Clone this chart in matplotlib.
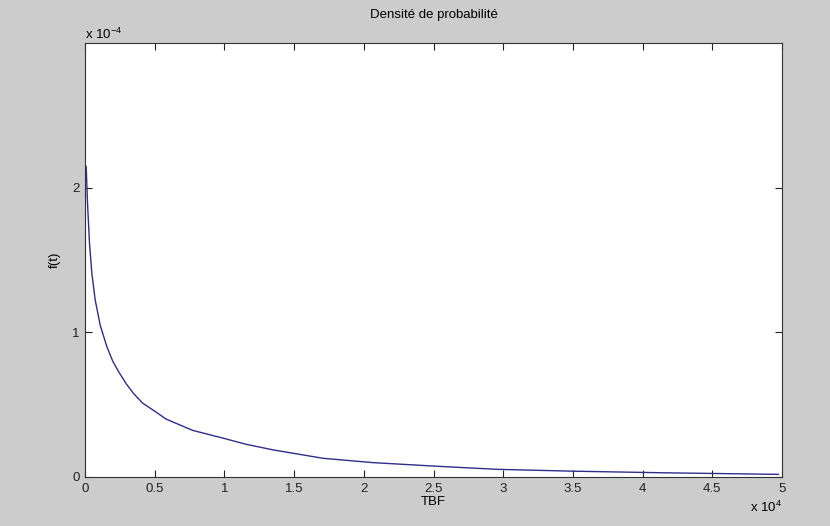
import numpy as np
import matplotlib
matplotlib.use("Agg")
import matplotlib.pyplot as plt
from matplotlib.ticker import FuncFormatter

# TBF (hours) and density f(t)
tbf = [86, 180, 323, 490, 730, 1090, 1565, 1994, 2400, 2955, 3500, 4146,
       5000, 5825, 6800, 7733, 9920, 11600, 13510, 17090, 20680, 25470,
       29530, 35030, 41490, 49740]
density = [2.147e-4, 1.894e-4, 1.617e-4, 1.41e-4, 1.225e-4, 1.05e-4, 0.902e-4,
           0.80e-4, 0.73e-4, 0.645e-4, 0.575e-4, 0.51e-4, 0.455e-4, 0.40e-4,
           0.36e-4, 0.322e-4, 0.268e-4, 0.225e-4, 0.187e-4, 0.129e-4,
           0.099e-4, 0.073e-4, 0.053e-4, 0.040e-4, 0.029e-4, 0.018e-4]

xticks = [0, 5000, 10000, 15000, 20000, 25000, 30000, 35000, 40000, 45000, 50000]
yticks = [0, 1e-4, 2e-4]

plt.rcParams['font.family'] = ['Liberation Sans', 'DejaVu Sans']
plt.rcParams['font.size'] = 9.5
plt.rcParams['mathtext.fontset'] = 'custom'
plt.rcParams['mathtext.rm'] = 'Liberation Sans'

fig = plt.figure(figsize=(8.3, 5.26), dpi=100, facecolor='#cccccc')
ax = fig.add_axes([0.1024, 0.0932, 0.8398, 0.8248])
ax.set_facecolor('white')

ax.plot(tbf, density, color='#2e2e8c', lw=1.0)

ax.set_xlim(0, 50000)
ax.set_ylim(0, 3e-4)
ax.set_xticks(xticks)
ax.set_yticks(yticks)
ax.xaxis.set_major_formatter(FuncFormatter(lambda v, p: '%g' % round(v / 1e4, 3)))
ax.yaxis.set_major_formatter(FuncFormatter(lambda v, p: '%g' % round(v / 1e-4, 3)))

# MATLAB-style exponent labels
ax.text(0.0, 1.003, 'x 10$^{-4}$', transform=ax.transAxes, ha='left', va='bottom', fontsize=9.5)
ax.text(1.0, -0.052, 'x 10$^{4}$', transform=ax.transAxes, ha='right', va='top', fontsize=9.5)

ax.tick_params(direction='in', top=True, right=True, length=5, width=0.8, colors='#222222', pad=4)
for s in ax.spines.values():
    s.set_color('#333333')
    s.set_linewidth(0.8)

ax.set_title('Densité de probabilité', fontsize=9.5, pad=18)
ax.set_xlabel('TBF', labelpad=1)
ax.set_ylabel('f(t)', labelpad=8)

fig.savefig('out.png', dpi=100, facecolor=fig.get_facecolor())
